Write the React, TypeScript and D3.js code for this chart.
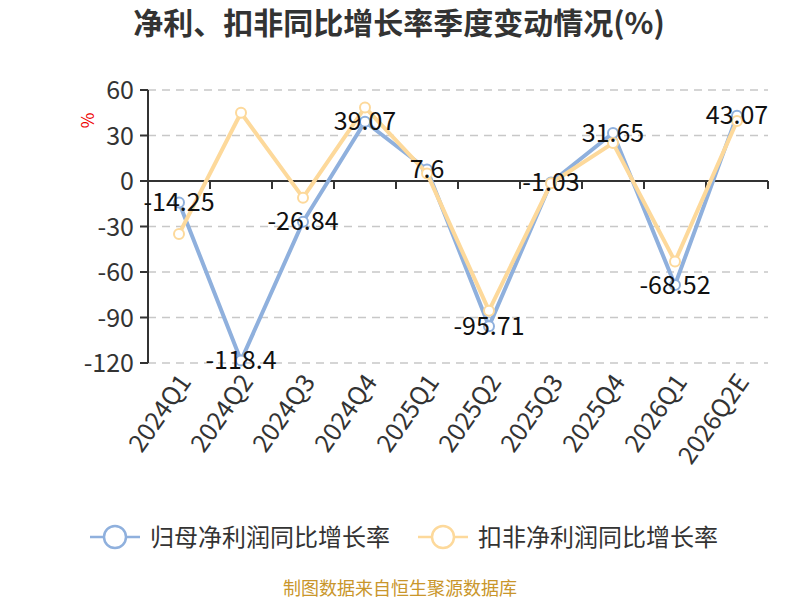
import React from "react";
import * as d3 from "d3";

const quarters = ["2024Q1", "2024Q2", "2024Q3", "2024Q4", "2025Q1", "2025Q2", "2025Q3", "2025Q4", "2026Q1", "2026Q2E"];
const netProfitGrowth = [-14.25, -118.4, -26.84, 39.07, 7.6, -95.71, -1.03, 31.65, -68.52, 43.07];
const deductedGrowth = [-35, 45, -11, 48.5, 5, -85.5, -1.5, 25, -53, 39.5];
const yTicks = [60, 30, 0, -30, -60, -90, -120];

const seriesNames = ["归母净利润同比增长率", "扣非净利润同比增长率"];
const BLUE = "#8fb0dd";
const ORANGE = "#fdd99b";
const FONT = "'Noto Sans CJK SC', 'Noto Sans', sans-serif";

export default function App() {
  const width = 800;
  const height = 600;
  const margin = { top: 90, right: 32, bottom: 237, left: 148 };
  const innerW = width - margin.left - margin.right;
  const innerH = height - margin.top - margin.bottom;

  const x = d3.scaleBand().domain(quarters).range([0, innerW]);
  const y = d3.scaleLinear().domain([-120, 60]).range([innerH, 0]);
  const cx = (q: string) => (x(q) ?? 0) + x.bandwidth() / 2;

  const line = d3
    .line<number>()
    .x((_, i) => cx(quarters[i]))
    .y((d) => y(d));

  const series = [
    { name: seriesNames[0], values: netProfitGrowth, color: BLUE },
    { name: seriesNames[1], values: deductedGrowth, color: ORANGE },
  ];

  return (
    <svg
      width={width}
      height={height}
      style={{ position: "absolute", left: 0, top: 0, display: "block", fontFamily: FONT }}
    >
      <rect width={width} height={height} fill="#fff" />
      <text x={399} y={34} textAnchor="middle" fontSize={30} fontWeight="bold" fill="#333">
        净利、扣非同比增长率季度变动情况(%)
      </text>

      <g transform={`translate(${margin.left},${margin.top})`}>
        {/* grid */}
        {yTicks
          .filter((t) => t !== 0)
          .map((t) => (
            <line key={t} x1={0} x2={innerW} y1={y(t)} y2={y(t)} stroke="#c8c8c8" strokeWidth={1.5} strokeDasharray="8,6" />
          ))}

        {/* y axis */}
        <line x1={0} x2={0} y1={0} y2={innerH} stroke="#333" strokeWidth={2} />
        {yTicks.map((t) => (
          <g key={t} transform={`translate(0,${y(t)})`}>
            <line x1={-8} x2={0} stroke="#333" strokeWidth={2} />
            <text x={-14} dy="0.36em" textAnchor="end" fontSize={25} fill="#333">
              {t}
            </text>
          </g>
        ))}
        <text
          transform={`translate(-60,${y(40)}) rotate(-90)`}
          textAnchor="middle"
          dy="0.35em"
          fontSize={17}
          fill="#e00"
        >
          %
        </text>

        {/* x axis at zero */}
        <line x1={0} x2={innerW} y1={y(0)} y2={y(0)} stroke="#333" strokeWidth={2} />
        {quarters.map((q) => (
          <line key={q} x1={(x(q) ?? 0) + x.bandwidth()} x2={(x(q) ?? 0) + x.bandwidth()} y1={y(0)} y2={y(0) + 8} stroke="#333" strokeWidth={2} />
        ))}
        {quarters.map((q) => (
          <text
            key={q}
            transform={`translate(${cx(q) + 6},${innerH + 14}) rotate(-55)`}
            textAnchor="end"
            dy="0.35em"
            fontSize={25}
            fill="#333"
          >
            {q}
          </text>
        ))}

        {/* lines */}
        {series.map((s) => (
          <g key={s.name}>
            <path d={line(s.values) ?? ""} fill="none" stroke={s.color} strokeWidth={4} strokeLinejoin="round" />
            {s.values.map((v, i) => (
              <circle key={i} cx={cx(quarters[i])} cy={y(v)} r={5} fill="#fff" stroke={s.color} strokeWidth={2} />
            ))}
          </g>
        ))}

        {/* labels */}
        {netProfitGrowth.map((v, i) => (
          <text key={i} x={cx(quarters[i])} y={y(v)} dy="0.35em" textAnchor="middle" fontSize={25} fill="#111">
            {v}
          </text>
        ))}
      </g>

      {/* legend */}
      {series.map((s, i) => {
        const lx = i === 0 ? 90 : 418;
        return (
          <g key={s.name} transform={`translate(${lx},537)`}>
            <line x1={0} x2={50} stroke={s.color} strokeWidth={2.5} />
            <circle cx={25} cy={0} r={11} fill="#fff" stroke={s.color} strokeWidth={2.5} />
            <text x={60} dy="0.36em" fontSize={24} fill="#333">
              {s.name}
            </text>
          </g>
        );
      })}

      <text x={400} y={589} dy="0.35em" textAnchor="middle" fontSize={18} fill="#c9962b">
        制图数据来自恒生聚源数据库
      </text>
    </svg>
  );
}
